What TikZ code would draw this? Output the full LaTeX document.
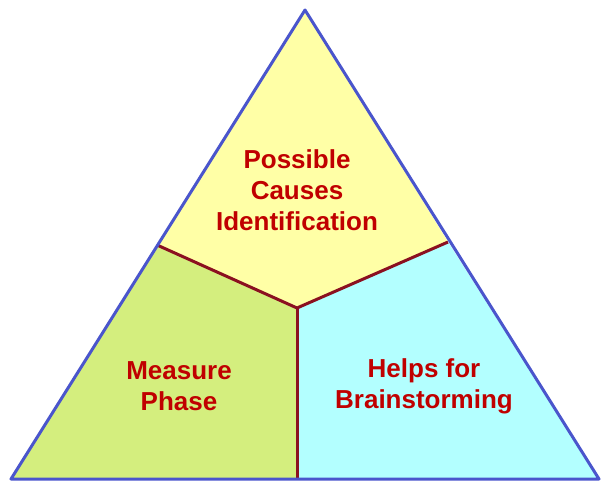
\documentclass[tikz,border=0pt]{standalone}
\usepackage{fontspec}
\setmainfont{Liberation Sans}
\usepackage{tikz}
\usetikzlibrary{positioning}
\definecolor{causeyellow}{HTML}{FFFFA6}
\definecolor{measuregreen}{HTML}{D4EE7E}
\definecolor{helpcyan}{HTML}{B3FFFF}
\definecolor{edgeblue}{HTML}{4A55CC}
\definecolor{splitred}{HTML}{8B1020}
\definecolor{labelred}{HTML}{C00000}

\begin{document}
\begin{tikzpicture}[x=1pt, y=-1pt, line join=round,
  label/.style={font=\fontsize{26}{31}\selectfont\bfseries, text=labelred, align=center, inner sep=0pt}]
  \useasboundingbox (0,0) rectangle (615,487);
  \coordinate (apex) at (305,10);
  \coordinate (bl) at (11,479);
  \coordinate (br) at (599,479);
  \coordinate (ml) at (157,245);
  \coordinate (mr) at (448,242);
  \coordinate (mid) at (297,308);
  \coordinate (mb) at (297,479);
  \fill[causeyellow] (apex) -- (mr) -- (mid) -- (ml) -- cycle;
  \fill[measuregreen] (ml) -- (mid) -- (mb) -- (bl) -- cycle;
  \fill[helpcyan] (mr) -- (mid) -- (mb) -- (br) -- cycle;
  \draw[splitred, line width=3pt] (ml) -- (mid) -- (mr);
  \draw[splitred, line width=3pt] (mid) -- (mb);
  \draw[edgeblue, line width=3pt] (apex) -- (br) -- (bl) -- cycle;
  \node[label] (causes) at (297,190) {Possible\\Causes\\Identification};
  \node[label] (measure) at (179,386) {Measure\\Phase};
  \node[label] (helps) at (424,386) {Helps for\\Brainstorming};
\end{tikzpicture}
\end{document}
